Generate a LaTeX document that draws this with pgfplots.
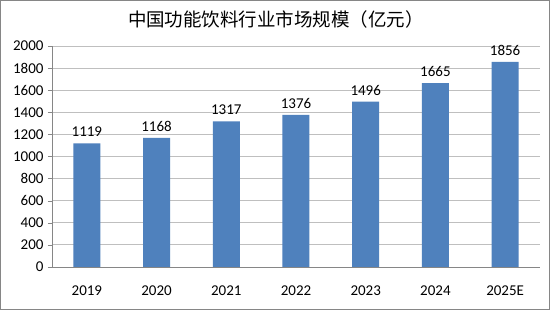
\documentclass[border=0pt]{standalone}
\usepackage{fontspec}
\setmainfont{Carlito}
\newfontfamily\cjk{Noto Sans CJK SC}
\usepackage{pgfplots}
\pgfplotsset{compat=1.18}
\definecolor{barblue}{HTML}{4F81BD}
\definecolor{gridgray}{HTML}{BFBFBF}
\definecolor{axgray}{HTML}{868686}
\begin{document}
\begin{tikzpicture}
\useasboundingbox (0,0) rectangle (550pt,310pt);
\fill[white] (0,0) rectangle (550pt,310pt);
\draw[axgray, line width=1pt] (0.5pt,0.5pt) rectangle (549.5pt,309.5pt);
\node[font=\fontsize{18.5}{20}\selectfont\cjk] at (276pt,291pt) {中国功能饮料行业市场规模（亿元）};
\begin{axis}[
  at={(52pt,43pt)}, anchor=south west,
  scale only axis, width=488pt, height=221pt,
  xmin=-0.5, xmax=6.5, ymin=0, ymax=2000,
  ytick={0,200,...,2000},
  xtick={0,...,6},
  xticklabels={2019,2020,2021,2022,2023,2024,2025E},
  major x tick style={draw=none},
  extra x ticks={-0.5,0.5,1.5,2.5,3.5,4.5,5.5,6.5},
  extra x tick labels={},
  extra x tick style={tick style={draw=axgray}, major tick length=5pt, tick pos=left, xticklabel style={draw=none}, grid=none},
  tick align=outside,
  major tick length=4pt,
  ytick pos=left, xtick pos=left,
  ymajorgrids, grid style={gridgray, line width=0.8pt},
  axis line style={axgray, line width=0.8pt},
  axis x line*=bottom, axis y line*=left,
  y tick style={axgray},
  tick label style={font=\fontsize{15}{17}\selectfont},
  /pgf/number format/assume math mode=true,
  /pgf/number format/1000 sep={},
  yticklabel style={xshift=-1pt},
  xticklabel style={yshift=-11pt},
  ybar, bar width=27pt,
  nodes near coords,
  every node near coord/.append style={font=\fontsize{15}{17}\selectfont, /pgf/number format/assume math mode=true, yshift=3pt},
]
\addplot[fill=barblue, draw=none] coordinates {(0,1119) (1,1168) (2,1317) (3,1376) (4,1496) (5,1665) (6,1856)};
\end{axis}
\end{tikzpicture}
\end{document}
